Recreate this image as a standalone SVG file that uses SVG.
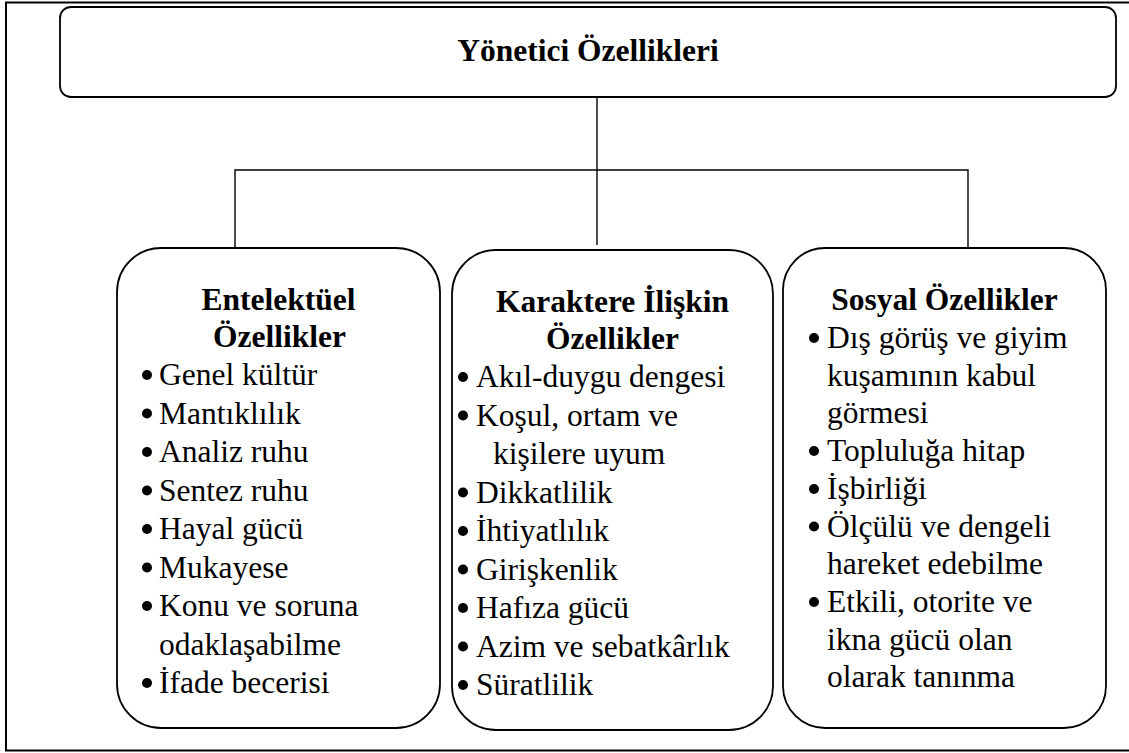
<svg xmlns="http://www.w3.org/2000/svg" width="1129" height="753" viewBox="0 0 1129 753">
<style>
.box{fill:#fff;stroke:#000;stroke-width:1.8}
.frame{fill:none;stroke:#000;stroke-width:2}
.conn{fill:none;stroke:#000;stroke-width:1.4}
text{font-family:'Liberation Serif','Times New Roman',Tinos,'DejaVu Serif',serif;font-size:31.5px;fill:#000}
.h{font-weight:bold;text-anchor:middle}
.b{fill:#000}
</style>
<rect width="1129" height="753" fill="#fff"/>
<path class="frame" d="M1129 2.5 H6 V750.5 H1129"/>
<g id="connectors">
<line class="conn" x1="597" y1="97" x2="597" y2="245"/>
<polyline class="conn" points="235,248 235,170 968,170 968,248"/>
</g>
<g id="root">
<rect class="box" x="60" y="7" width="1056" height="90" rx="11"/>
<text class="h" x="588" y="61" font-family="Liberation Serif, serif">Yönetici Özellikleri</text>
</g>
<g id="entelektuel">
<rect class="box" x="117" y="248" width="323" height="480" rx="44"/>
<text class="h" x="278.5" y="310">Entelektüel</text>
<text class="h" x="279.5" y="347">Özellikler</text>
<g class="b">
<circle cx="147" cy="375" r="5"/><circle cx="147" cy="413.5" r="5"/><circle cx="147" cy="452" r="5"/><circle cx="147" cy="490.5" r="5"/><circle cx="147" cy="529" r="5"/><circle cx="147" cy="567.5" r="5"/><circle cx="147" cy="606" r="5"/><circle cx="147" cy="683" r="5"/>
</g>
<text x="159" y="385">Genel kültür</text>
<text x="159" y="423.5">Mantıklılık</text>
<text x="159" y="462">Analiz ruhu</text>
<text x="159" y="500.5">Sentez ruhu</text>
<text x="159" y="539">Hayal gücü</text>
<text x="159" y="577.5">Mukayese</text>
<text x="159" y="616">Konu ve soruna</text>
<text x="159" y="654.5">odaklaşabilme</text>
<text x="159" y="693">İfade becerisi</text>
</g>
<g id="karakter">
<rect class="box" x="452" y="250" width="321" height="480" rx="44"/>
<text class="h" x="612.5" y="312">Karaktere İlişkin</text>
<text class="h" x="612.5" y="349">Özellikler</text>
<g class="b">
<circle cx="463" cy="377" r="5"/><circle cx="463" cy="415.5" r="5"/><circle cx="463" cy="492.5" r="5"/><circle cx="463" cy="531" r="5"/><circle cx="463" cy="569.5" r="5"/><circle cx="463" cy="608" r="5"/><circle cx="463" cy="646.5" r="5"/><circle cx="463" cy="685" r="5"/>
</g>
<text x="476" y="387">Akıl-duygu dengesi</text>
<text x="476" y="425.5">Koşul, ortam ve</text>
<text x="493" y="464">kişilere uyum</text>
<text x="476" y="502.5">Dikkatlilik</text>
<text x="476" y="541">İhtiyatlılık</text>
<text x="476" y="579.5">Girişkenlik</text>
<text x="476" y="618">Hafıza gücü</text>
<text x="476" y="656.5">Azim ve sebatkârlık</text>
<text x="476" y="695">Süratlilik</text>
</g>
<g id="sosyal">
<rect class="box" x="783" y="248" width="323" height="480" rx="42"/>
<text class="h" x="944.5" y="310">Sosyal Özellikler</text>
<g class="b">
<circle cx="814" cy="338" r="5"/><circle cx="814" cy="451" r="5"/><circle cx="814" cy="489" r="5"/><circle cx="814" cy="526.5" r="5"/><circle cx="814" cy="602" r="5"/>
</g>
<text x="827" y="348">Dış görüş ve giyim</text>
<text x="827" y="385.7">kuşamının kabul</text>
<text x="827" y="423.4">görmesi</text>
<text x="827" y="461.1">Topluluğa hitap</text>
<text x="827" y="498.8">İşbirliği</text>
<text x="827" y="536.5">Ölçülü ve dengeli</text>
<text x="827" y="574.2">hareket edebilme</text>
<text x="827" y="611.9">Etkili, otorite ve</text>
<text x="827" y="649.6">ikna gücü olan</text>
<text x="827" y="687.3">olarak tanınma</text>
</g>
</svg>
